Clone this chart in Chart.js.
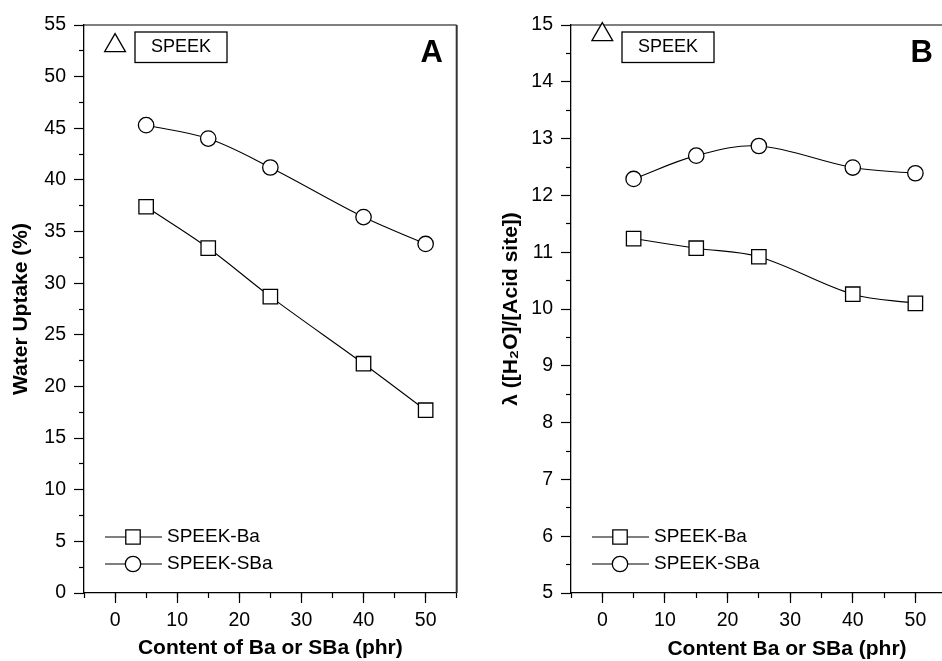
<!DOCTYPE html>
<html>
<head>
<meta charset="utf-8">
<script src="https://cdn.jsdelivr.net/npm/chart.js@4.4.0/dist/chart.umd.min.js"></script>
<style>
  html, body { margin: 0; padding: 0; background: #fff; overflow: hidden; width: 942px; height: 661px; }
  canvas { position: absolute; top: 0; }
</style>
</head>
<body>
<canvas id="chartA" width="470" height="661" style="left:0"></canvas>
<canvas id="chartB" width="490" height="661" style="left:470px"></canvas>
<script>
// data
const contents = [5, 15, 25, 40, 50];
const speekContent = 0;

const uptakeBa = [37.4, 33.4, 28.7, 22.2, 17.7];
const uptakeSBa = [45.3, 44.0, 41.2, 36.4, 33.8];
const uptakeSpeek = 53.0;

const lambdaBa = [11.24, 11.07, 10.92, 10.26, 10.10];
const lambdaSBa = [12.29, 12.70, 12.87, 12.49, 12.39];
const lambdaSpeek = 14.83;

// tick labels
const xTicks = [0, 10, 20, 30, 40, 50];
const xMinorTicks = [-5, 0, 5, 10, 15, 20, 25, 30, 35, 40, 45, 50, 55];
const uptakeTicks = [0, 5, 10, 15, 20, 25, 30, 35, 40, 45, 50, 55];
const uptakeMinorTicks = [2.5, 7.5, 12.5, 17.5, 22.5, 27.5, 32.5, 37.5, 42.5, 47.5, 52.5];
const lambdaTicks = [5, 6, 7, 8, 9, 10, 11, 12, 13, 14, 15];
const lambdaMinorTicks = [5.5, 6.5, 7.5, 8.5, 9.5, 10.5, 11.5, 12.5, 13.5, 14.5];

const FONT = '"Liberation Sans", Arial, Helvetica, sans-serif';
Chart.defaults.font.family = FONT;
Chart.defaults.color = '#000';

const toPts = (xs, ys) => xs.map((x, i) => ({ x: x, y: ys[i] }));

function makeDatasets(ba, sba, speek) {
  const common = {
    borderColor: '#000', borderWidth: 1.1, backgroundColor: '#fff',
    pointBackgroundColor: '#fff', pointBorderColor: '#000', pointBorderWidth: 1.3,
    tension: 0.35, fill: false
  };
  return [
    Object.assign({}, common, { label: 'SPEEK-Ba', data: toPts(contents, ba), pointStyle: 'rect', pointRadius: 10.2 }),
    Object.assign({}, common, { label: 'SPEEK-SBa', data: toPts(contents, sba), pointStyle: 'circle', pointRadius: 7.7 }),
    Object.assign({}, common, { label: 'SPEEK', data: [{ x: speekContent, y: speek }], pointStyle: 'triangle', pointRadius: 12, showLine: false, clip: false })
  ];
}

function makeScales(yMin, yMax, yMajor, yMinor, yTitle, yWidth, yTitlePad, xTitle) {
  const tickFont = { size: 19.5 };
  const titleFont = { size: 21, weight: 'bold' };
  const grid = (len) => ({ drawOnChartArea: false, tickLength: len, tickWidth: 1.2, tickColor: '#000' });
  return {
    x: {
      type: 'linear', position: 'bottom', weight: 1, min: -5, max: 55,
      afterBuildTicks: s => { s.ticks = xTicks.map(v => ({ value: v })); },
      afterFit: s => { s.height = 68; },
      ticks: { font: tickFont, color: '#000', padding: 6, maxRotation: 0, autoSkip: false },
      grid: grid(10),
      border: { color: '#000', width: 1.3 },
      title: { display: !!xTitle, text: xTitle, font: titleFont, color: '#000', padding: { top: 0, bottom: 0 } }
    },
    xMinor: {
      type: 'linear', position: 'bottom', weight: 0, min: -5, max: 55,
      afterBuildTicks: s => { s.ticks = xMinorTicks.map(v => ({ value: v })); },
      afterFit: s => { s.height = 0; },
      ticks: { display: false },
      grid: grid(5),
      border: { display: false }
    },
    y: {
      type: 'linear', position: 'left', weight: 1, min: yMin, max: yMax,
      afterBuildTicks: s => { s.ticks = yMajor.map(v => ({ value: v })); },
      afterFit: s => { s.width = yWidth; },
      ticks: { font: tickFont, color: '#000', padding: 8, autoSkip: false },
      grid: grid(10),
      border: { color: '#000', width: 1.3 },
      title: { display: true, text: yTitle, font: titleFont, color: '#000', padding: { top: yTitlePad, bottom: 0 } }
    },
    yMinor: {
      type: 'linear', position: 'left', weight: 0, min: yMin, max: yMax,
      afterBuildTicks: s => { s.ticks = yMinor.map(v => ({ value: v })); },
      afterFit: s => { s.width = 0; },
      ticks: { display: false },
      grid: grid(5),
      border: { display: false }
    }
  };
}

// top/right frame lines under the markers
const framePlugin = {
  id: 'frame',
  beforeDatasetsDraw(chart) {
    const { ctx, chartArea: a } = chart;
    ctx.save();
    ctx.strokeStyle = '#000';
    ctx.lineWidth = 1.2;
    ctx.beginPath(); ctx.moveTo(a.left, a.top); ctx.lineTo(a.right, a.top); ctx.stroke();
    ctx.strokeStyle = '#333';
    ctx.lineWidth = 2;
    ctx.beginPath(); ctx.moveTo(a.right, a.top); ctx.lineTo(a.right, a.bottom); ctx.stroke();
    ctx.restore();
  }
};

// panel letter, SPEEK label box and the line+marker legend
const notesPlugin = {
  id: 'notes',
  afterDraw(chart, args, opts) {
    const { ctx, chartArea: a } = chart;
    ctx.save();
    ctx.fillStyle = '#000';
    ctx.textBaseline = 'middle';

    ctx.font = 'bold 31px ' + FONT;
    ctx.textAlign = 'center';
    ctx.fillText(opts.letter, a.right - 25, a.top + 28);

    ctx.strokeStyle = '#000';
    ctx.lineWidth = 1.3;
    ctx.strokeRect(a.left + 51, a.top + 7, 92, 30.5);
    ctx.font = '18px ' + FONT;
    ctx.fillText('SPEEK', a.left + 97, a.top + 22.5);

    if (opts.xTitle) {
      ctx.font = 'bold 21px ' + FONT;
      ctx.fillText(opts.xTitle, a.left + 216, a.bottom + 56);
    }

    const rows = [a.bottom - 56, a.bottom - 29];
    chart.data.datasets.slice(0, 2).forEach((ds, i) => {
      const y = rows[i];
      ctx.strokeStyle = '#000';
      ctx.lineWidth = 1.1;
      ctx.beginPath(); ctx.moveTo(a.left + 21, y); ctx.lineTo(a.left + 78, y); ctx.stroke();
      ctx.fillStyle = '#fff';
      ctx.lineWidth = 1.3;
      Chart.helpers.drawPoint(ctx, { pointStyle: ds.pointStyle, radius: ds.pointRadius, borderWidth: 1.3, rotation: 0 }, a.left + 49, y);
      ctx.fillStyle = '#000';
      ctx.font = '19px ' + FONT;
      ctx.textAlign = 'left';
      ctx.fillText(ds.label, a.left + 83, y);
    });
    ctx.restore();
  }
};

function makeChart(id, datasets, scales, pad, notes) {
  return new Chart(document.getElementById(id), {
    type: 'line',
    data: { datasets: datasets },
    options: {
      responsive: false,
      animation: false,
      devicePixelRatio: 1,
      layout: { padding: pad },
      plugins: { legend: { display: false }, tooltip: { enabled: false }, notes: notes },
      scales: scales
    },
    plugins: [framePlugin, notesPlugin]
  });
}

makeChart('chartA',
  makeDatasets(uptakeBa, uptakeSBa, uptakeSpeek),
  makeScales(0, 55, uptakeTicks, uptakeMinorTicks, 'Water Uptake (%)', 84, 9, 'Content of Ba or SBa (phr)'),
  { top: 25, right: 8, left: 0, bottom: 0 },
  { letter: 'A' });

makeChart('chartB',
  makeDatasets(lambdaBa, lambdaSBa, lambdaSpeek),
  makeScales(5, 15, lambdaTicks, lambdaMinorTicks, 'λ ([H₂O]/[Acid site])', 101, 29, ''),
  { top: 25, right: 12, left: 0, bottom: 0 },
  { letter: 'B', xTitle: 'Content Ba or SBa (phr)' });
</script>
</body>
</html>
